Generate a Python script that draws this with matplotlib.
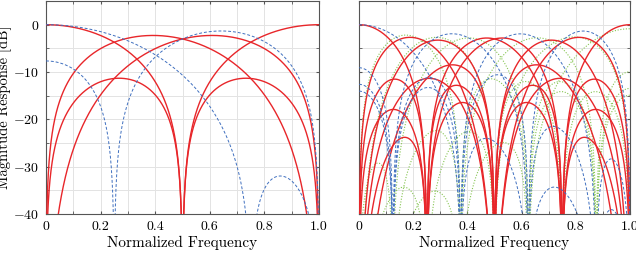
import numpy as np
import matplotlib.pyplot as plt
from matplotlib.ticker import MultipleLocator

plt.rcParams['font.family'] = 'cmr10'
plt.rcParams['axes.unicode_minus'] = False
plt.rcParams['axes.formatter.use_mathtext'] = True

# Walsh / Haar packet filters (sign patterns), length 4 and 8
walsh_4 = [[1, 1, 1, 1], [1, 1, -1, -1], [1, -1, -1, 1], [1, -1, 1, -1]]
walsh_8 = [[1, 1, 1, 1, 1, 1, 1, 1],
           [1, 1, 1, 1, -1, -1, -1, -1],
           [1, 1, -1, -1, 1, 1, -1, -1],
           [1, 1, -1, -1, -1, -1, 1, 1],
           [1, -1, 1, -1, 1, -1, 1, -1],
           [1, -1, 1, -1, -1, 1, -1, 1],
           [1, -1, -1, 1, 1, -1, -1, 1],
           [1, -1, -1, 1, -1, 1, 1, -1]]

# sine (DST-II) and cosine (DCT-II) basis indices shown in each panel
dst_k_4 = [1, 3]
dst_k_8 = [1, 3, 5, 7]
dct_k_8 = [1, 2, 3, 5, 6, 7]

freq = np.linspace(0, 1, 4001)


def response_db(taps, norm):
    n = np.arange(len(taps))
    H = np.exp(-1j * np.pi * np.outer(freq, n)) @ np.asarray(taps, float)
    return 20 * np.log10(np.maximum(np.abs(H) / norm, 1e-9))


def dst_taps(k, N):
    return np.sin(np.pi * (2 * np.arange(N) + 1) * k / (2 * N))


def dct_taps(k, N):
    return np.cos(np.pi * (2 * np.arange(N) + 1) * k / (2 * N)) * np.sqrt(2)


red = '#e8262a'
blue = '#3f6fbf'
green = '#86c552'

fig = plt.figure(figsize=(6.36, 2.54), dpi=100)
ax1 = fig.add_axes([0.0723, 0.157, 0.4293, 0.839])
ax2 = fig.add_axes([0.5645, 0.157, 0.4261, 0.839])

panels = [(ax1, walsh_4, dst_k_4, [], 4), (ax2, walsh_8, dst_k_8, dct_k_8, 8)]
for ax, walsh, kb, kg, N in panels:
    dnorm = dst_taps(1, N).sum()
    for k in kg:
        ax.plot(freq, response_db(dct_taps(k, N), N), color=green, lw=0.8,
                ls=(0, (1, 1.5)), zorder=2)
    for w in walsh:
        ax.plot(freq, response_db(w, N), color=red, lw=1.0, zorder=3)
    for k in kb:
        ax.plot(freq, response_db(dst_taps(k, N), dnorm), color=blue, lw=0.7,
                ls=(0, (3, 2)), zorder=4)

    ax.set_xlim(0, 1)
    ax.set_ylim(-40, 5)
    ax.xaxis.set_major_locator(MultipleLocator(0.2))
    ax.xaxis.set_minor_locator(MultipleLocator(0.1))
    ax.yaxis.set_major_locator(MultipleLocator(10))
    ax.yaxis.set_minor_locator(MultipleLocator(5))
    ax.xaxis.set_major_formatter(plt.FuncFormatter(lambda v, p: '0' if v == 0 else f'{v:.1f}'))
    ax.grid(True, which='both', color='#e3e3e3', lw=0.7, zorder=0)
    ax.tick_params(which='both', direction='in', top=True, right=True, length=2.5,
                   color='#555555', labelsize=10, pad=5)
    for s in ax.spines.values():
        s.set_color('#555555')
        s.set_linewidth(0.8)
    ax.set_xlabel('Normalized Frequency', fontsize=11, labelpad=2)
    ax.set_axisbelow(True)

ax1.set_ylabel('Magnitude Response [dB]', fontsize=10.5, labelpad=1)
ax2.set_yticklabels([])

fig.savefig('out.png', dpi=100)
